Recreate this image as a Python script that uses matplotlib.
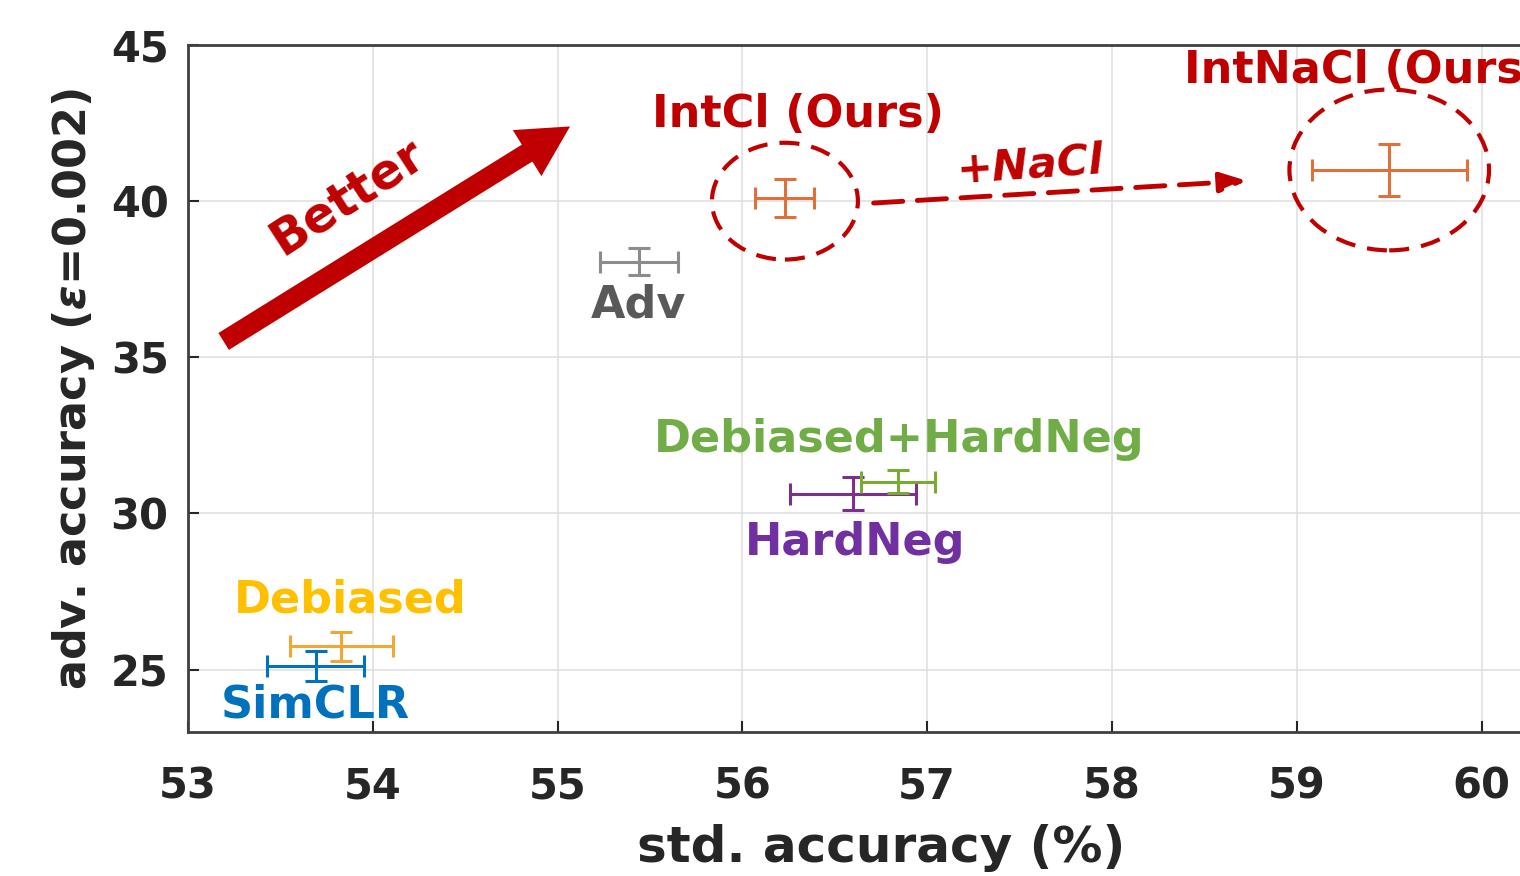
import matplotlib.pyplot as plt
from matplotlib.patches import Ellipse, FancyArrowPatch

# methods, std acc, adv acc and their error bars
methods = ['SimCLR', 'Debiased', 'Adv', 'IntCl (Ours)', 'IntNaCl (Ours)', 'HardNeg', 'Debiased+HardNeg']
std_acc = [53.69, 53.83, 55.44, 56.23, 59.50, 56.60, 56.84]
adv_acc = [25.10, 25.74, 38.06, 40.10, 41.00, 30.63, 31.02]
std_err = [0.26, 0.28, 0.21, 0.16, 0.42, 0.34, 0.20]
adv_err = [0.48, 0.46, 0.44, 0.62, 0.82, 0.52, 0.38]
bar_colors = ['#0072BD', '#EDA838', '#8C8C8C', '#E0703A', '#E0703A', '#7E2F8E', '#77AC30']

# label text positions (data units)
label_x = [53.69, 53.88, 55.44, 56.30, 58.39, 56.61, 56.85]
label_y = [23.85, 27.24, 36.68, 42.76, 44.2, 29.06, 32.36]
label_ha = ['center', 'center', 'center', 'center', 'left', 'center', 'center']
label_colors = ['#0072BD', '#FFC000', '#595959', '#C00000', '#C00000', '#7030A0', '#70AD47']

red = '#C00000'
plt.rcParams['font.family'] = ['DejaVu Sans']
plt.rcParams['font.weight'] = 'bold'

fig = plt.figure(figsize=(15.2, 8.76), dpi=100)
ax = fig.add_axes([0.1237, 0.1644, (1574 - 188) / 1520, 0.7842])

for i in range(len(methods)):
    ax.errorbar(std_acc[i], adv_acc[i], xerr=std_err[i], yerr=adv_err[i],
                color=bar_colors[i], elinewidth=2.2, capsize=8, capthick=2.2, fmt='none')
    ax.text(label_x[i], label_y[i], methods[i], color=label_colors[i], fontsize=32,
            fontweight='bold', ha=label_ha[i], va='center')

# dashed circles round our methods
ax.add_patch(Ellipse((56.23, 40.0), 0.79, 3.74, fill=False, edgecolor=red,
                     linestyle=(0, (4.8, 2.9)), linewidth=3))
ax.add_patch(Ellipse((59.50, 41.0), 1.08, 5.15, fill=False, edgecolor=red,
                     linestyle=(0, (4.8, 2.9)), linewidth=3))

# +NaCl arrow
ax.annotate('', xy=(58.73, 40.65), xytext=(56.71, 39.94),
            arrowprops=dict(arrowstyle='-|>,head_length=1.6,head_width=0.6', color=red,
                            linestyle=(0, (6, 3)), linewidth=3.5, shrinkA=0, shrinkB=0))
ax.text(57.555, 41.16, '+NaCl', color=red, fontsize=31, fontweight='bold', style='italic',
        ha='center', va='center', rotation=4)

# Better arrow
ax.add_patch(FancyArrowPatch((53.18, 35.46), (55.08, 42.44),
                             arrowstyle='simple,head_length=2.8,head_width=3.0,tail_width=1.1',
                             mutation_scale=13, color=red, linewidth=0))
ax.text(53.86, 40.14, 'Better', color=red, fontsize=35, fontweight='bold',
        ha='center', va='center', rotation=33)

ax.set_xlim(53, 60.5)
ax.set_ylim(23, 45)
ax.set_xticks([53, 54, 55, 56, 57, 58, 59, 60])
ax.set_yticks([25, 30, 35, 40, 45])
ax.grid(True, color='#E0E0E0', linewidth=1.2)
ax.set_axisbelow(True)
ax.tick_params(direction='in', length=8, width=1.5, colors='#262626', labelsize=30)
ax.tick_params(axis='x', pad=24)
ax.tick_params(axis='y', pad=14)
for lab in ax.get_xticklabels() + ax.get_yticklabels():
    lab.set_fontweight('bold')
for sp in ax.spines.values():
    sp.set_color('#404040')
    sp.set_linewidth(2)

ax.set_xlabel('std. accuracy (%)', fontsize=36, fontweight='bold', color='#262626', labelpad=12)
ax.set_ylabel('adv. accuracy ($\\epsilon$=0.002)', fontsize=32, fontweight='bold', color='#262626', labelpad=10)

fig.savefig('out.png', dpi=100)
